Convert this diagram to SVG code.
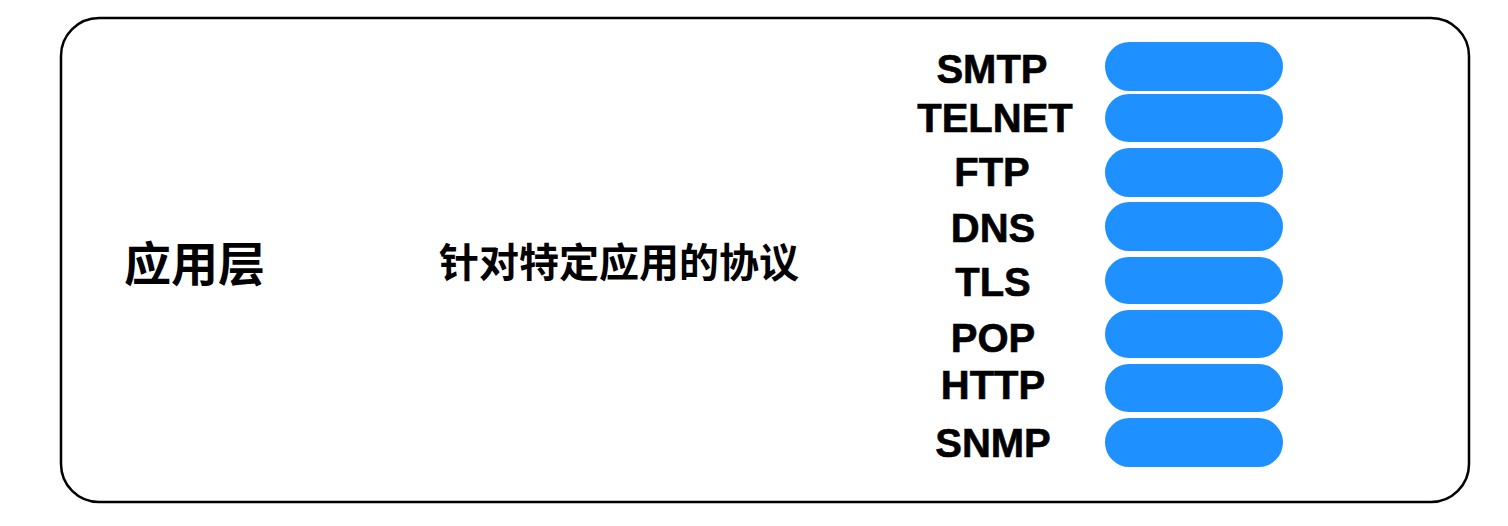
<svg xmlns="http://www.w3.org/2000/svg" width="1508" height="526" viewBox="0 0 1508 526">
<style>
.frame{fill:#fff;stroke:#000;stroke-width:2.5}
.pill{fill:#1E90FF}
.lbl{font-family:"Liberation Sans",Arial,sans-serif;font-weight:bold;font-size:40px;fill:#000;text-anchor:middle;stroke:#000;stroke-width:0.6}
.cjk{font-family:"Noto Sans CJK SC","Liberation Sans",sans-serif;font-weight:bold;fill:#000;dominant-baseline:central}
</style>
<rect width="1508" height="526" fill="#fff"/>
<g id="layer">
<rect class="frame" x="61" y="18" width="1408" height="484" rx="38" ry="38"/>
<text class="cjk" x="124" y="260" font-size="47">应用层</text>
<text class="cjk" x="439" y="260" font-size="40">针对特定应用的协议</text>
</g>
<g id="smtp"><rect class="pill" x="1105" y="42" width="178" height="49" rx="24.5"/><text class="lbl" x="992" y="83">SMTP</text></g>
<g id="telnet"><rect class="pill" x="1105" y="94" width="178" height="48" rx="24"/><text class="lbl" x="995" y="132">TELNET</text></g>
<g id="ftp"><rect class="pill" x="1105" y="148" width="178" height="49" rx="24.5"/><text class="lbl" x="992" y="186">FTP</text></g>
<g id="dns"><rect class="pill" x="1105" y="202" width="178" height="49" rx="24.5"/><text class="lbl" x="993" y="242">DNS</text></g>
<g id="tls"><rect class="pill" x="1105" y="257" width="178" height="47" rx="23.5"/><text class="lbl" x="993" y="296">TLS</text></g>
<g id="pop"><rect class="pill" x="1105" y="310" width="178" height="48" rx="24"/><text class="lbl" x="993" y="352">POP</text></g>
<g id="http"><rect class="pill" x="1105" y="364" width="178" height="48" rx="24"/><text class="lbl" x="993" y="399">HTTP</text></g>
<g id="snmp"><rect class="pill" x="1105" y="418" width="178" height="49" rx="24.5"/><text class="lbl" x="993" y="457">SNMP</text></g>
<g id="connectors"></g>
</svg>
